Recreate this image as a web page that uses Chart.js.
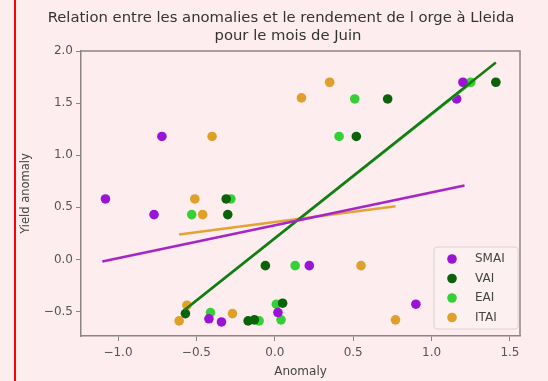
<!DOCTYPE html>
<html>
<head>
<meta charset="utf-8">
<script src="https://cdn.jsdelivr.net/npm/chart.js@4/dist/chart.umd.min.js"></script>
<style>
  body { margin: 0; background: #fdedee; }
  #wrap { position: relative; width: 548px; height: 381px; }
  #redline { position: absolute; left: 14px; top: 0; width: 2px; height: 381px; background: #f00; }
</style>
</head>
<body>
<div id="wrap">
  <canvas id="chart"></canvas>
  <div id="redline"></div>
</div>
<script>
// --- data ---
const titleLines = ['Relation entre les anomalies et le rendement de l orge à Lleida', 'pour le mois de Juin'];
const categories = ['SMAI', 'VAI', 'EAI', 'ITAI'];
const colors = ['#9a14d4', '#0b620b', '#35d035', '#dfa02a'];

const smaiX = [-1.08, -0.77, -0.72, -0.42, -0.34, 0.02, 0.22, 0.90, 1.16, 1.20];
const smaiY = [0.58, 0.43, 1.18, -0.57, -0.60, -0.51, -0.06, -0.43, 1.54, 1.70];
const vaiX = [-0.57, -0.31, -0.30, -0.17, -0.13, -0.06, 0.05, 0.52, 0.72, 1.41];
const vaiY = [-0.52, 0.58, 0.43, -0.59, -0.58, -0.06, -0.42, 1.18, 1.54, 1.70];
const eaiX = [-0.53, -0.41, -0.28, -0.10, 0.01, 0.04, 0.13, 0.41, 0.51, 1.25];
const eaiY = [0.43, -0.51, 0.58, -0.59, -0.43, -0.58, -0.06, 1.18, 1.54, 1.70];
const itaiX = [-0.61, -0.56, -0.51, -0.46, -0.40, -0.27, 0.17, 0.35, 0.55, 0.77];
const itaiY = [-0.59, -0.44, 0.58, 0.43, 1.18, -0.52, 1.55, 1.70, -0.06, -0.58];

// regression lines (end points as drawn)
const smaiFitX = [-1.10, 1.21];
const smaiFitY = [-0.02, 0.71];
const vaiFitX = [-0.58, 1.41];
const vaiFitY = [-0.49, 1.89];
const eaiFitX = [-0.53, 1.25];
const eaiFitY = [-0.43, 1.69];
const itaiFitX = [-0.61, 0.77];
const itaiFitY = [0.24, 0.51];

const xTicks = [-1.0, -0.5, 0.0, 0.5, 1.0, 1.5];
const yTicks = [-0.5, 0.0, 0.5, 1.0, 1.5, 2.0];

const toPts = (xs, ys) => xs.map((x, i) => ({ x: x, y: ys[i] }));
const fmt = v => (v < 0 ? '\u2212' : '') + Math.abs(v).toFixed(1);

const pointSets = [[smaiX, smaiY], [vaiX, vaiY], [eaiX, eaiY], [itaiX, itaiY]];
const fitSets = [[smaiFitX, smaiFitY], [vaiFitX, vaiFitY], [eaiFitX, eaiFitY], [itaiFitX, itaiFitY]];
const lineColors = ['#a526c8', '#167a16', '#2fc42f', '#e3a236'];

const datasets = [];
pointSets.forEach((s, i) => {
  datasets.push({
    type: 'scatter', label: categories[i], data: toPts(s[0], s[1]),
    backgroundColor: colors[i], pointRadius: 4.8, pointBorderWidth: 0, order: 2
  });
});
fitSets.forEach((s, i) => {
  datasets.push({
    type: 'line', label: categories[i] + ' fit', data: toPts(s[0], s[1]),
    borderColor: lineColors[i], borderWidth: 2.5, pointRadius: 0, fill: false, order: 1
  });
});

const tickFont = { family: 'DejaVu Sans', size: 12 };
const axisColor = '#8c8486';

// title, top/right spines and the inside legend
const extras = {
  id: 'extras',
  afterDraw(chart) {
    const ctx = chart.ctx;
    const a = chart.chartArea;
    ctx.save();
    ctx.strokeStyle = axisColor;
    ctx.lineWidth = 1.5;
    ctx.beginPath();
    ctx.moveTo(a.left, a.top); ctx.lineTo(a.right, a.top); ctx.lineTo(a.right, a.bottom);
    ctx.stroke();

    ctx.fillStyle = '#333';
    ctx.font = '14.8px "DejaVu Sans"';
    ctx.textAlign = 'center';
    ctx.textBaseline = 'middle';
    ctx.fillText(titleLines[0], 281, 18);
    ctx.fillText(titleLines[1], 288, 36);

    // legend box
    const bx = 434, by = 247, bw = 84, bh = 82;
    ctx.fillStyle = 'rgba(253,240,241,0.9)';
    ctx.strokeStyle = '#dcd2d3';
    ctx.lineWidth = 1;
    ctx.beginPath();
    ctx.roundRect(bx, by, bw, bh, 3);
    ctx.fill(); ctx.stroke();
    ctx.font = '12px "DejaVu Sans"';
    ctx.textAlign = 'left';
    categories.forEach((c, i) => {
      const y = 259 + i * 19.5;
      ctx.fillStyle = colors[i];
      ctx.beginPath(); ctx.arc(452, y, 4.8, 0, Math.PI * 2); ctx.fill();
      ctx.fillStyle = '#444';
      ctx.fillText(c, 475, y);
    });
    ctx.restore();
  }
};

new Chart(document.getElementById('chart'), {
  type: 'scatter',
  data: { datasets: datasets },
  options: {
    responsive: true,
    maintainAspectRatio: false,
    animation: false,
    layout: { padding: { left: 0, right: 28, top: 51, bottom: 0 } },
    plugins: { legend: { display: false }, tooltip: { enabled: false }, title: { display: false } },
    scales: {
      x: {
        type: 'linear', min: -1.236, max: 1.564,
        afterBuildTicks: s => { s.ticks = xTicks.map(v => ({ value: v })); },
        afterFit: s => { s.height = 45; },
        ticks: { font: tickFont, color: '#555', padding: 5, callback: v => fmt(v) },
        grid: { drawOnChartArea: false, drawTicks: true, tickLength: 5, color: axisColor },
        border: { display: true, color: axisColor, width: 1.5 },
        title: { display: true, text: 'Anomaly', font: tickFont, color: '#444', padding: { top: 0, bottom: 2 } }
      },
      y: {
        type: 'linear', min: -0.735, max: 2.0,
        afterBuildTicks: s => { s.ticks = yTicks.map(v => ({ value: v })); },
        afterFit: s => { s.width = 81; },
        ticks: { font: tickFont, color: '#555', padding: 3, callback: v => fmt(v) },
        grid: { drawOnChartArea: false, drawTicks: true, tickLength: 5, color: axisColor },
        border: { display: true, color: axisColor, width: 1.5 },
        title: { display: true, text: 'Yield anomaly', font: { family: 'DejaVu Sans', size: 11.5 }, color: '#444', padding: { top: 19, bottom: 0 } }
      }
    }
  },
  plugins: [extras]
});
</script>
</body>
</html>
